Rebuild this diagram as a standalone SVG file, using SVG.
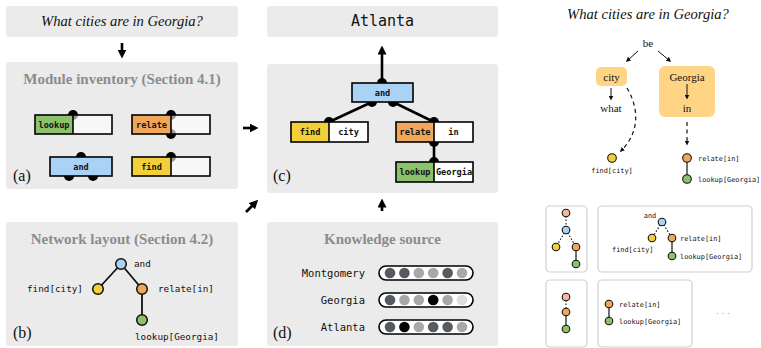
<svg xmlns="http://www.w3.org/2000/svg" width="761" height="348" viewBox="0 0 761 348">
<defs>
<style>
.panel{fill:#ebebeb}
.ttl{font-family:"Liberation Serif",serif;font-weight:bold;font-size:15px;fill:#8c8c8c;text-anchor:middle}
.q{font-family:"Liberation Serif",serif;font-style:italic;font-size:14.6px;fill:#111;text-anchor:middle}
.lbl{font-family:"Liberation Serif",serif;font-size:16px;fill:#111}
.word{font-family:"Liberation Serif",serif;font-size:11px;fill:#111;text-anchor:middle}
.mono{font-family:"DejaVu Sans Mono",monospace;fill:#111}
.mt{font-family:"DejaVu Sans Mono",monospace;font-weight:bold;font-size:8.6px;fill:#111;text-anchor:middle}
.tl{font-family:"DejaVu Sans Mono",monospace;font-size:9.3px;fill:#111}
.sl{font-family:"DejaVu Sans Mono",monospace;font-size:6.9px;fill:#111}
.kl{font-family:"DejaVu Sans Mono",monospace;font-size:10.5px;fill:#111;text-anchor:end}
.frame{fill:none;stroke:#000;stroke-width:1.6}
.div{stroke:#000;stroke-width:1.6}
.slot{fill:#fff;fill-opacity:0.6}
.wslot{fill:#fff}
.node{stroke:#111;stroke-width:1.5}
.snode{stroke:#111;stroke-width:1.1}
.edge{stroke:#111;stroke-width:1.8;fill:none}
.cedge{stroke:#000;stroke-width:2.6;fill:none}
.sedge{stroke:#111;stroke-width:1.2;fill:none}
.dedge{stroke:#111;stroke-width:1.1;fill:none;stroke-dasharray:1.5,1.8}
.dash{stroke:#111;stroke-width:1.2;fill:none;stroke-dasharray:4,3.5}
.big{stroke:#000;stroke-width:2.6;fill:none}
.thin{stroke:#111;stroke-width:1;fill:none}
.g{fill:#8bc26b}.o{fill:#f0a75a}.b{fill:#a9d2f5}.y{fill:#f3d03a}.p{fill:#f4b8a0}
.D{fill:#565b61}.L{fill:#a8a8a8}.K{fill:#050505}.V{fill:#dedede}
.cap{fill:#fff;stroke:#000;stroke-width:1.6}
.box{fill:#fff;stroke:#cfcfcf;stroke-width:1.2}
.hl{fill:#ffd585}
</style>
<marker id="ah" viewBox="0 0 10 10" refX="5" refY="5" markerWidth="9" markerHeight="9" markerUnits="userSpaceOnUse" orient="auto"><path d="M0,0 L10,5 L0,10 z" fill="#000"/></marker>
<marker id="ahs" viewBox="0 0 10 10" refX="7" refY="5" markerWidth="5" markerHeight="5" markerUnits="userSpaceOnUse" orient="auto"><path d="M0,0 L10,5 L0,10 z" fill="#111"/></marker>
</defs>

<!-- panels -->
<g id="question-box"><rect class="panel" x="6" y="6" width="232" height="31" rx="3"/><text class="q" x="122" y="26">What cities are in Georgia?</text></g>
<g id="answer-box"><rect class="panel" x="267" y="6" width="231" height="31" rx="3"/><text class="mono" x="382.5" y="26" font-size="15" text-anchor="middle">Atlanta</text></g>
<g id="panel-a"><rect class="panel" x="6" y="62" width="232" height="127" rx="3"/><text class="ttl" x="122" y="84">Module inventory (Section 4.1)</text><text class="lbl" x="13" y="181">(a)</text></g>
<g id="panel-b"><rect class="panel" x="6" y="222" width="232" height="124" rx="3"/><text class="ttl" x="122" y="244">Network layout (Section 4.2)</text><text class="lbl" x="13" y="338">(b)</text></g>
<g id="panel-c"><rect class="panel" x="267" y="64" width="231" height="129" rx="3"/><text class="lbl" x="273" y="181">(c)</text></g>
<g id="panel-d"><rect class="panel" x="267" y="222" width="231" height="124" rx="3"/><text class="ttl" x="382.5" y="244">Knowledge source</text><text class="lbl" x="273" y="338">(d)</text></g>

<!-- right: parse boxes -->
<g id="r-question"><text class="q" x="648" y="19" font-size="12.3">What cities are in Georgia?</text></g>
<g id="r-be"><text class="word" x="648" y="47">be</text></g>
<g id="r-city"><rect class="hl" x="596" y="67" width="31" height="19" rx="5"/><text class="word" x="611.5" y="81">city</text></g>
<g id="r-what"><text class="word" x="611" y="112">what</text></g>
<g id="r-georgia"><rect class="hl" x="659" y="66" width="56" height="51" rx="6"/><text class="word" x="687" y="81">Georgia</text><text class="word" x="687" y="112">in</text></g>

<!-- right: candidate layout frames -->
<g id="cand-1"><rect class="box" x="546" y="206" width="41" height="66" rx="4"/></g>
<g id="cand-2"><rect class="box" x="598" y="206" width="154" height="66" rx="4"/></g>
<g id="cand-3"><rect class="box" x="546" y="280" width="41" height="67" rx="4"/></g>
<g id="cand-4"><rect class="box" x="598" y="280" width="94" height="67" rx="4"/></g>

<!-- module inventory -->
<g id="inv-lookup">
<circle cx="73" cy="115" r="5"/>
<rect class="g" x="35" y="115" width="38" height="19"/><rect class="slot" x="73" y="115" width="39" height="19"/>
<rect class="frame" x="35" y="115" width="77" height="19"/><line class="div" x1="73" y1="115" x2="73" y2="134"/>
<text class="mt" x="54" y="128">lookup</text>
</g>
<g id="inv-relate">
<circle cx="171" cy="115" r="5"/><circle cx="171" cy="134" r="5"/>
<rect class="o" x="132" y="115" width="39" height="19"/><rect class="slot" x="171" y="115" width="39" height="19"/>
<rect class="frame" x="132" y="115" width="78" height="19"/><line class="div" x1="171" y1="115" x2="171" y2="134"/>
<text class="mt" x="151.5" y="128">relate</text>
</g>
<g id="inv-and">
<circle cx="81" cy="157" r="5"/><circle cx="69" cy="176" r="5"/><circle cx="93" cy="176" r="5"/>
<rect class="b" x="50" y="157" width="62" height="19"/><rect class="frame" x="50" y="157" width="62" height="19"/>
<text class="mt" x="81" y="170">and</text>
</g>
<g id="inv-find">
<circle cx="171" cy="157" r="5"/>
<rect class="y" x="132" y="157" width="39" height="19"/><rect class="slot" x="171" y="157" width="39" height="19"/>
<rect class="frame" x="132" y="157" width="78" height="19"/><line class="div" x1="171" y1="157" x2="171" y2="176"/>
<text class="mt" x="151.5" y="170">find</text>
</g>

<!-- connectors -->
<g id="connectors">
<line class="big" x1="122" y1="43" x2="122" y2="54" marker-end="url(#ah)"/>
<line class="big" x1="243" y1="128" x2="254" y2="128" marker-end="url(#ah)"/>
<line class="big" x1="246" y1="212" x2="255" y2="203" marker-end="url(#ah)"/>
<line class="big" x1="382" y1="211" x2="382" y2="203" marker-end="url(#ah)"/>
<line class="big" x1="382" y1="83" x2="382" y2="50" marker-end="url(#ah)"/>
<line class="cedge" x1="372" y1="102" x2="329" y2="122"/>
<line class="cedge" x1="393" y1="102" x2="434" y2="122"/>
<line class="cedge" x1="434" y1="142" x2="434" y2="162"/>
<line class="edge" x1="121" y1="264" x2="98" y2="289"/>
<line class="edge" x1="121" y1="264" x2="142" y2="289"/>
<line class="edge" x1="142" y1="289" x2="142" y2="320"/>
<line class="thin" x1="638" y1="51" x2="627" y2="61" marker-end="url(#ahs)"/>
<line class="thin" x1="658" y1="51" x2="670" y2="61" marker-end="url(#ahs)"/>
<line class="thin" x1="611" y1="88" x2="611" y2="99" marker-end="url(#ahs)"/>
<line class="thin" x1="687" y1="84" x2="687" y2="98" marker-end="url(#ahs)"/>
<path class="dash" d="M627,88 C639,108 640,132 621,151" marker-end="url(#ahs)"/>
<line class="dash" x1="687" y1="122" x2="687" y2="144" marker-end="url(#ahs)"/>
<line class="sedge" x1="687" y1="158" x2="687" y2="179"/>
<line class="dedge" x1="566" y1="213" x2="566" y2="230"/>
<line class="dedge" x1="566" y1="230" x2="556" y2="247"/>
<line class="dedge" x1="566" y1="230" x2="576" y2="247"/>
<line class="sedge" x1="576" y1="247" x2="576" y2="264"/>
<line class="dedge" x1="662" y1="222" x2="652" y2="238"/>
<line class="dedge" x1="662" y1="222" x2="672" y2="238"/>
<line class="sedge" x1="672" y1="238" x2="672" y2="256"/>
<line class="dedge" x1="566" y1="297" x2="566" y2="312"/>
<line class="sedge" x1="566" y1="312" x2="566" y2="329"/>
<line class="sedge" x1="609" y1="304" x2="609" y2="321"/>
</g>

<!-- assembled network (c) -->
<g id="c-and">
<circle cx="382" cy="83" r="5"/><circle cx="372" cy="102" r="5"/><circle cx="393" cy="102" r="5"/>
<rect class="b" x="352" y="83" width="61" height="19"/><rect class="frame" x="352" y="83" width="61" height="19"/>
<text class="mt" x="382.5" y="96">and</text>
</g>
<g id="c-find">
<circle cx="329" cy="122" r="5"/>
<rect class="y" x="291" y="122" width="38" height="20"/><rect class="wslot" x="329" y="122" width="39" height="20"/>
<rect class="frame" x="291" y="122" width="77" height="20"/><line class="div" x1="329" y1="122" x2="329" y2="142"/>
<text class="mt" x="310" y="135">find</text><text class="mt" x="348.5" y="135">city</text>
</g>
<g id="c-relate">
<circle cx="434" cy="122" r="5"/><circle cx="434" cy="142" r="5"/>
<rect class="o" x="396" y="122" width="38" height="20"/><rect class="wslot" x="434" y="122" width="39" height="20"/>
<rect class="frame" x="396" y="122" width="77" height="20"/><line class="div" x1="434" y1="122" x2="434" y2="142"/>
<text class="mt" x="415" y="135">relate</text><text class="mt" x="453.5" y="135">in</text>
</g>
<g id="c-lookup">
<circle cx="434" cy="162" r="5"/>
<rect class="g" x="396" y="162" width="38" height="20"/><rect class="wslot" x="434" y="162" width="39" height="20"/>
<rect class="frame" x="396" y="162" width="77" height="20"/><line class="div" x1="434" y1="162" x2="434" y2="182"/>
<text class="mt" x="415" y="175">lookup</text><text class="mt" x="454" y="174.5" font-size="6.5">Georgia</text>
</g>

<!-- layout tree (b) -->
<g id="b-and"><circle class="node b" cx="121" cy="264" r="5.3"/><text class="tl" x="134" y="267">and</text></g>
<g id="b-find"><circle class="node y" cx="98" cy="289" r="5.3"/><text class="tl" x="27" y="292">find[city]</text></g>
<g id="b-relate"><circle class="node o" cx="142" cy="289" r="5.3"/><text class="tl" x="158" y="292">relate[in]</text></g>
<g id="b-lookup"><circle class="node g" cx="142" cy="320" r="5.3"/><text class="tl" x="135" y="340">lookup[Georgia]</text></g>

<!-- knowledge source (d) -->
<g id="kb-montgomery"><text class="kl" x="365" y="276.5">Montgomery</text>
<rect class="cap" x="379" y="266" width="94" height="14" rx="7"/>
<circle class="D" cx="390" cy="273" r="5.3"/><circle class="D" cx="404.4" cy="273" r="5.3"/><circle class="L" cx="418.8" cy="273" r="5.3"/><circle class="L" cx="433.2" cy="273" r="5.3"/><circle class="D" cx="447.6" cy="273" r="5.3"/><circle class="L" cx="462" cy="273" r="5.3"/></g>
<g id="kb-georgia"><text class="kl" x="365" y="303.5">Georgia</text>
<rect class="cap" x="379" y="293" width="94" height="14" rx="7"/>
<circle class="D" cx="390" cy="300" r="5.3"/><circle class="L" cx="404.4" cy="300" r="5.3"/><circle class="L" cx="418.8" cy="300" r="5.3"/><circle class="K" cx="433.2" cy="300" r="5.3"/><circle class="L" cx="447.6" cy="300" r="5.3"/><circle class="V" cx="462" cy="300" r="5.3"/></g>
<g id="kb-atlanta"><text class="kl" x="365" y="330.5">Atlanta</text>
<rect class="cap" x="379" y="320" width="94" height="14" rx="7"/>
<circle class="D" cx="390" cy="327" r="5.3"/><circle class="K" cx="404.4" cy="327" r="5.3"/><circle class="L" cx="418.8" cy="327" r="5.3"/><circle class="D" cx="433.2" cy="327" r="5.3"/><circle class="D" cx="447.6" cy="327" r="5.3"/><circle class="L" cx="462" cy="327" r="5.3"/></g>

<!-- right: nodes -->
<g id="r-find"><circle class="snode y" cx="612" cy="158" r="4.3"/><text class="sl" x="612" y="173" text-anchor="middle">find[city]</text></g>
<g id="r-relate"><circle class="snode o" cx="687" cy="158" r="4.3"/><text class="sl" x="698" y="161">relate[in]</text></g>
<g id="r-lookup"><circle class="snode g" cx="687" cy="179" r="4.3"/><text class="sl" x="698" y="182">lookup[Georgia]</text></g>

<g id="cand-1-nodes">
<circle class="snode p" cx="566" cy="213" r="3.8"/><circle class="snode b" cx="566" cy="230" r="3.8"/><circle class="snode y" cx="556" cy="247" r="3.8"/><circle class="snode o" cx="576" cy="247" r="3.8"/><circle class="snode g" cx="576" cy="264" r="3.8"/></g>
<g id="cand-2-nodes">
<text class="sl" x="650" y="218" text-anchor="middle">and</text>
<circle class="snode b" cx="662" cy="222" r="3.8"/><circle class="snode y" cx="652" cy="238" r="3.8"/><circle class="snode o" cx="672" cy="238" r="3.8"/><circle class="snode g" cx="672" cy="256" r="3.8"/>
<text class="sl" x="680" y="241">relate[in]</text><text class="sl" x="612" y="252">find[city]</text><text class="sl" x="680" y="259">lookup[Georgia]</text></g>
<g id="cand-3-nodes">
<circle class="snode p" cx="566" cy="297" r="3.8"/><circle class="snode o" cx="566" cy="312" r="3.8"/><circle class="snode g" cx="566" cy="329" r="3.8"/></g>
<g id="cand-4-nodes">
<circle class="snode o" cx="609" cy="304" r="3.8"/><circle class="snode g" cx="609" cy="321" r="3.8"/>
<text class="sl" x="619" y="307">relate[in]</text><text class="sl" x="619" y="324">lookup[Georgia]</text></g>
<g id="more"><text x="723" y="316" font-family="Liberation Sans,sans-serif" font-size="9" fill="#999" text-anchor="middle">· · ·</text></g>
</svg>
